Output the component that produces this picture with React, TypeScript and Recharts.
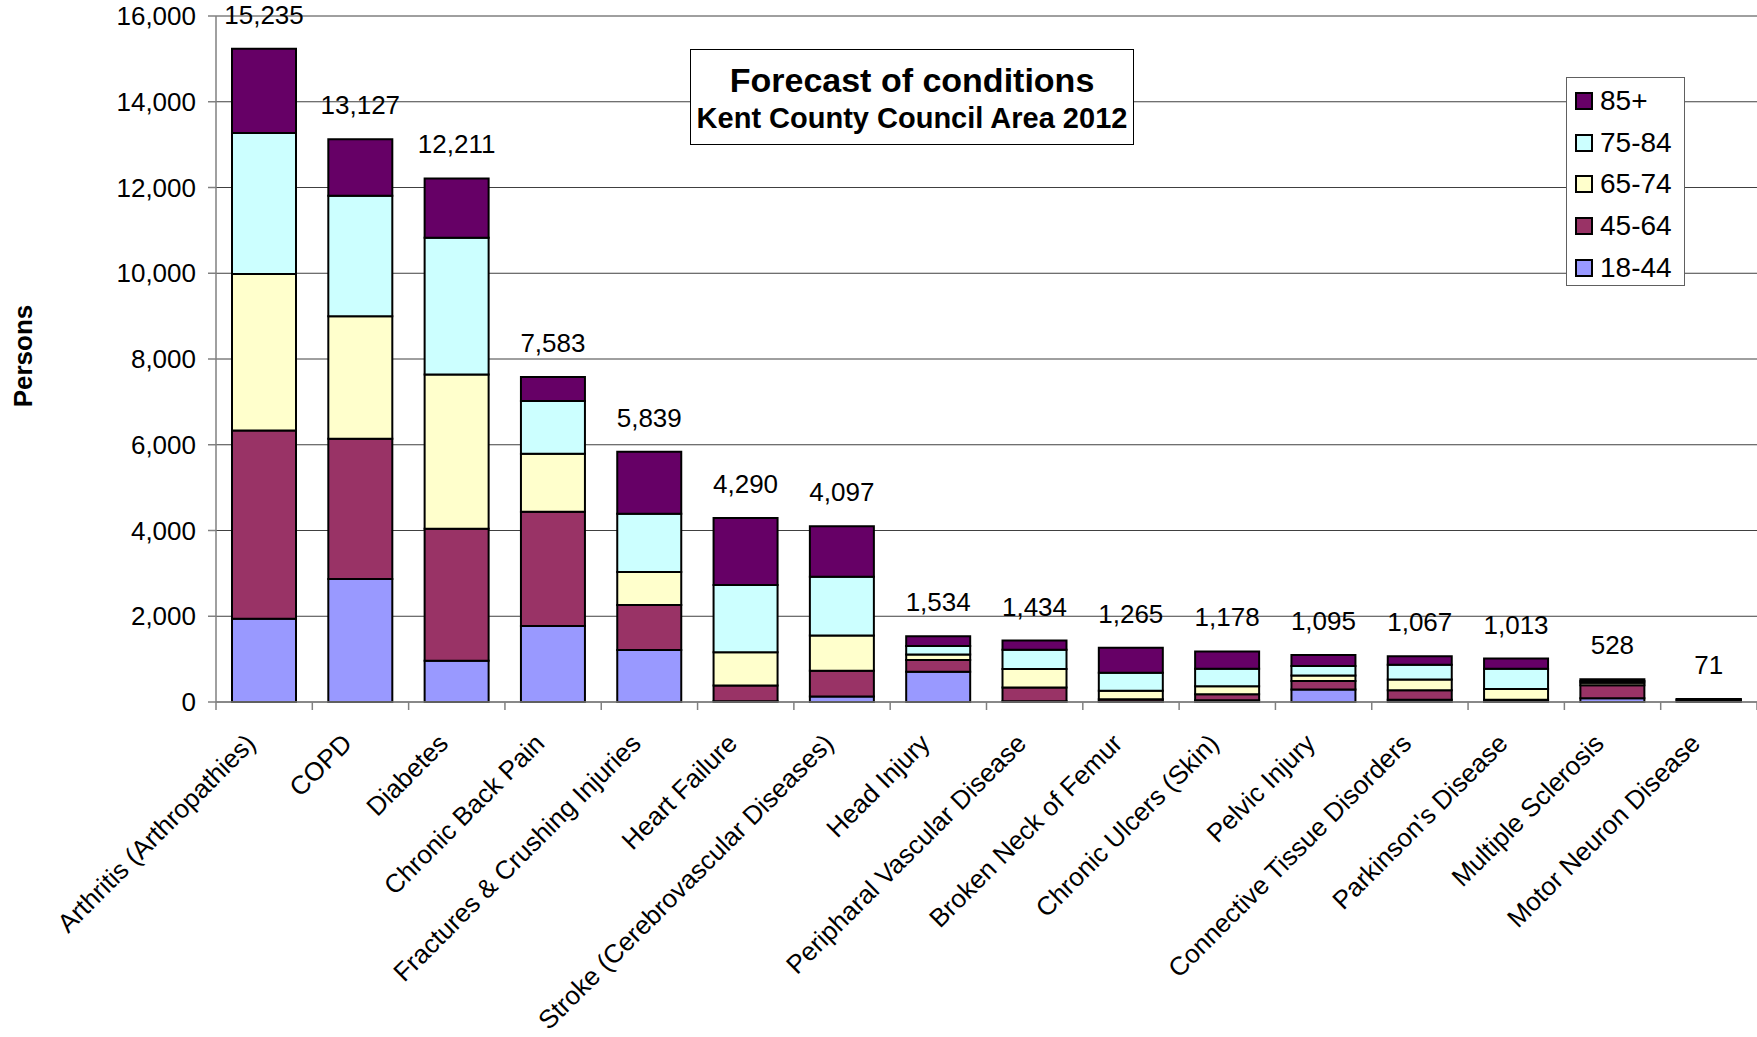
import { BarChart, Bar, XAxis, YAxis, CartesianGrid, LabelList } from "recharts";

// Forecast of conditions, Kent County Council Area 2012 (persons by age band)
const conditions = [
  "Arthritis (Arthropathies)", "COPD", "Diabetes", "Chronic Back Pain",
  "Fractures & Crushing Injuries", "Heart Failure", "Stroke (Cerebrovascular Diseases)",
  "Head Injury", "Peripharal Vascular Disease", "Broken Neck of Femur",
  "Chronic Ulcers (Skin)", "Pelvic Injury", "Connective Tissue Disorders",
  "Parkinson's Disease", "Multiple Sclerosis", "Motor Neuron Disease",
];
const age18to44 = [1940, 2870, 965, 1770, 1210, 20, 130, 706, 20, 10, 40, 290, 50, 5, 90, 5];
const age45to64 = [4390, 3270, 3075, 2670, 1050, 366, 600, 274, 317, 55, 140, 200, 225, 50, 300, 30];
const age65to74 = [3650, 2860, 3600, 1350, 770, 774, 820, 130, 433, 195, 190, 130, 250, 251, 60, 15];
const age75to84 = [3290, 2810, 3190, 1230, 1360, 1570, 1370, 196, 446, 420, 406, 220, 345, 470, 40, 15];
const age85plus = [1965, 1317, 1381, 563, 1449, 1560, 1177, 228, 218, 585, 402, 255, 197, 237, 38, 6];
const totals = [15235, 13127, 12211, 7583, 5839, 4290, 4097, 1534, 1434, 1265, 1178, 1095, 1067, 1013, 528, 71];
const yTicks = [0, 2000, 4000, 6000, 8000, 10000, 12000, 14000, 16000];

const series = [
  { key: "a18", name: "18-44", color: "#9999FF" },
  { key: "a45", name: "45-64", color: "#993366" },
  { key: "a65", name: "65-74", color: "#FFFFCC" },
  { key: "a75", name: "75-84", color: "#CCFFFF" },
  { key: "a85", name: "85+", color: "#660066" },
];

const data = conditions.map((c, i) => ({
  name: c,
  a18: age18to44[i],
  a45: age45to64[i],
  a65: age65to74[i],
  a75: age75to84[i],
  a85: age85plus[i],
  total: totals[i],
}));

const FONT = "'Liberation Sans', Arial, sans-serif";
const W = 1757;
const H = 1037;
const PLOT_LEFT = 216;
const BAND = (W - PLOT_LEFT) / conditions.length;
const fmt = (v: any) => Number(v).toLocaleString("en-US");

const CategoryTick = (props: any) => {
  const { x, y, payload, index } = props;
  return (
    <g>
      <line x1={x - BAND / 2} x2={x - BAND / 2} y1={y} y2={y + 8} stroke="#808080" strokeWidth={1.5} />
      {index === conditions.length - 1 && (
        <line x1={x + BAND / 2} x2={x + BAND / 2} y1={y} y2={y + 8} stroke="#808080" strokeWidth={1.5} />
      )}
      <text
        transform={`translate(${x - 7},${y + 43}) rotate(-45)`}
        textAnchor="end"
        fontSize={26}
        fontFamily={FONT}
        fill="#000"
      >
        {payload.value}
      </text>
    </g>
  );
};

export default function App() {
  return (
    <div style={{ position: "absolute", left: 0, top: 0, width: W, height: H, background: "#fff", fontFamily: FONT }}>
      <BarChart width={W} height={H} data={data} margin={{ top: 16, right: 0, left: 0, bottom: 0 }} barSize={64}>
        <CartesianGrid vertical={false} stroke="#404040" strokeWidth={1} />
        <XAxis
          dataKey="name"
          interval={0}
          height={335}
          tickSize={0}
          tickMargin={0}
          tickLine={false}
          axisLine={{ stroke: "#808080", strokeWidth: 1.5 }}
          tick={<CategoryTick />}
        />
        <YAxis
          width={PLOT_LEFT}
          domain={[0, 16000]}
          ticks={yTicks}
          tickFormatter={fmt}
          tickSize={8}
          tickMargin={12}
          tickLine={{ stroke: "#808080", strokeWidth: 1.5 }}
          axisLine={{ stroke: "#808080", strokeWidth: 1.5 }}
          tick={{ fill: "#000", fontSize: 26, fontFamily: FONT }}
          label={{
            content: () => (
              <text x={23} y={356} transform="rotate(-90 23 356)" textAnchor="middle" dominantBaseline="central"
                fontSize={26} fontWeight="bold" fontFamily={FONT} fill="#000">Persons</text>
            ),
          }}
        />
        {series.map((s, i) => (
          <Bar key={s.key} dataKey={s.key} name={s.name} stackId="age" fill={s.color}
            stroke="#000" strokeWidth={2} isAnimationActive={false}>
            {i === series.length - 1 && (
              <LabelList dataKey="total" position="top" offset={25} formatter={fmt}
                style={{ fontSize: 26, fontFamily: FONT, fill: "#000" }} />
            )}
          </Bar>
        ))}
      </BarChart>

      <div style={{
        position: "absolute", left: 690, top: 49, width: 444, height: 96, boxSizing: "border-box",
        border: "1.5px solid #000", background: "#fff", textAlign: "center", fontWeight: "bold", color: "#000",
      }}>
        <div style={{ fontSize: 34, lineHeight: "38px", marginTop: 11 }}>Forecast of conditions</div>
        <div style={{ fontSize: 29, lineHeight: "32px", marginTop: 3 }}>Kent County Council Area 2012</div>
      </div>

      <div style={{
        position: "absolute", left: 1566, top: 77, width: 119, height: 209, boxSizing: "border-box",
        border: "1.5px solid #606060", background: "#fff", paddingTop: 2,
      }}>
        {[...series].reverse().map((s) => (
          <div key={s.key} style={{ display: "flex", alignItems: "center", height: 41.7, paddingLeft: 8 }}>
            <span style={{ width: 18, height: 18, boxSizing: "border-box", border: "2px solid #000", background: s.color, marginRight: 7 }} />
            <span style={{ fontSize: 28, color: "#000", lineHeight: "30px" }}>{s.name}</span>
          </div>
        ))}
      </div>
    </div>
  );
}
